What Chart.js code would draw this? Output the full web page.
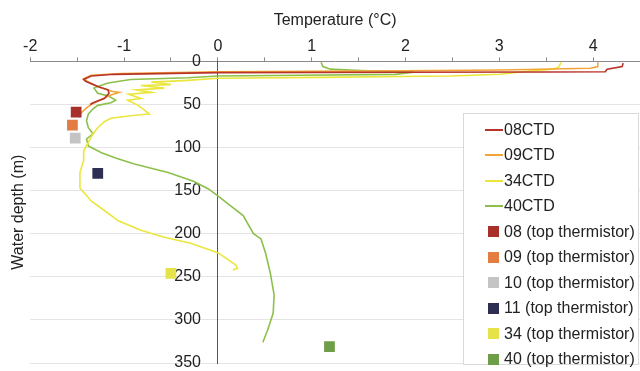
<!DOCTYPE html>
<html>
<head>
<meta charset="utf-8">
<script src="https://cdn.jsdelivr.net/npm/chart.js@4.4.1/dist/chart.umd.min.js"></script>
<style>
  body { margin: 0; background: #fff; overflow: hidden; }
  #wrap { position: relative; width: 640px; height: 371px; }
  #legend {
    position: absolute; left: 463px; top: 113px; width: 176px; height: 252px;
    background: #fff; border: 1px solid #d9d9d9; box-sizing: border-box;
    font-family: "Liberation Sans", Arial, sans-serif; font-size: 16px; color: #222;
    padding-top: 3px;
  }
  .item { height: 25.5px; display: flex; align-items: center; white-space: nowrap; }
  .line { width: 18px; height: 2px; margin-left: 21px; margin-right: 1px; }
  .box { width: 11px; height: 11px; margin-left: 24px; margin-right: 5px; }
</style>
</head>
<body>
<div id="wrap">
  <canvas id="myChart" width="640" height="371"></canvas>
  <div id="legend"></div>
</div>
<script>
//! DATA (temperature in °C, depth in m)
const ctd08Temp  = [4.32, 4.31, 4.15, 4.13, 3.50, 1.95, 0.00, -1.11, -1.35, -1.43, -1.41, -1.28, -1.17, -1.16, -1.21, -1.33, -1.36];
const ctd08Depth = [2, 6, 9, 12, 12.3, 12.6, 13, 15, 17, 21, 23, 29, 33, 37, 43, 48, 50];

const ctd09Temp  = [4.05, 4.05, 3.97, 3.01, 1.95, 0.00, -1.03, -1.35, -1.43, -1.38, -1.24, -1.12, -1.05, -1.14, -1.24, -1.35, -1.40, -1.46, -1.48];
const ctd09Depth = [1, 6, 8, 10, 11, 12, 14, 16, 20, 24, 31, 35, 36, 39, 44, 50, 54, 60, 65];

const ctd34Temp  = [3.66, 3.63, 3.57, 3.30, 3.01, 2.48, 1.95, 1.10, 0.00, -0.32, -0.71, -0.50, -0.82, -0.57, -0.87, -0.71, -0.95, -0.82, -0.96, -0.85, -0.80, -0.73, -0.93, -1.14, -1.21, -1.28, -1.33, -1.37, -1.43, -1.43, -1.47, -1.47, -1.35, -1.21, -1.06, -0.82, -0.57, -0.29, 0.00, 0.19, 0.21, 0.16];
const ctd34Depth = [1, 7, 9, 11.5, 15, 17, 17.5, 18.5, 19.6, 22, 24, 27, 28, 31, 33, 36, 38, 43, 45, 51, 55, 61, 63, 66, 70, 77, 84, 92, 104, 115, 129, 147, 162, 173, 185, 196, 204, 211, 222, 236, 240, 242];

const ctd40Temp  = [1.10, 1.12, 1.20, 1.52, 2.09, 1.89, 0.88, 0.00, -0.32, -0.93, -1.17, -1.28, -1.32, -1.28, -1.17, -1.09, -1.14, -1.28, -1.33, -1.38, -1.40, -1.38, -1.33, -1.40, -1.38, -1.24, -1.09, -0.89, -0.53, -0.26, -0.10, 0.00, 0.13, 0.27, 0.38, 0.46, 0.51, 0.56, 0.60, 0.59, 0.53, 0.48];
const ctd40Depth = [1, 6, 9, 10.5, 12.5, 15, 16, 17, 19, 21, 25, 29, 31, 37, 40, 45, 48, 51, 55, 61, 69, 77, 84, 90, 98, 106, 112, 119, 129, 139, 148, 156, 167, 179, 200, 206, 223, 246, 271, 292, 312, 326];

const ctdNames  = ['08CTD', '09CTD', '34CTD', '40CTD'];
const ctdColors = ['#b8342a', '#f2a536', '#ebe63c', '#8cc04a'];

const thermNames  = ['08 (top thermistor)', '09 (top thermistor)', '10 (top thermistor)', '11 (top thermistor)', '34 (top thermistor)', '40 (top thermistor)'];
const thermTemp   = [-1.51, -1.55, -1.52, -1.28, -0.50, 1.19];
const thermDepth  = [59, 74, 89, 130, 246, 331];
const thermColors = ['#a8302a', '#e37d42', '#c4c4c4', '#2e2e52', '#e6e24a', '#6f9e48'];

const tempTicks  = [-2, -1, 0, 1, 2, 3, 4];
const depthTicks = [0, 50, 100, 150, 200, 250, 300, 350];

//* build points
function toPoints(temps, depths) {
    return temps.map(function (t, i) {
        return { x: t, y: depths[i] };
    });
}

const ctdTemps  = [ctd08Temp, ctd09Temp, ctd34Temp, ctd40Temp];
const ctdDepths = [ctd08Depth, ctd09Depth, ctd34Depth, ctd40Depth];

const datasets = [];
thermNames.forEach(function (name, i) {
    datasets.push({
        label: name,
        data: [{ x: thermTemp[i], y: thermDepth[i] }],
        pointStyle: 'rect',
        pointRadius: 7.6,
        backgroundColor: thermColors[i],
        borderColor: thermColors[i],
        borderWidth: 0,
        order: 0
    });
});
ctdNames.forEach(function (name, i) {
    datasets.push({
        label: name,
        data: toPoints(ctdTemps[i], ctdDepths[i]),
        showLine: true,
        pointRadius: 0,
        borderColor: ctdColors[i],
        backgroundColor: ctdColors[i],
        borderWidth: 1.6,
        tension: 0,
        order: 1 + i
    });
});

const font = { family: '"Liberation Sans", Arial, sans-serif', size: 16 };

//* no extra padding from the axes, the plot area is set by layout
function noPadding(axis) {
    axis.paddingLeft = 0;
    axis.paddingRight = 0;
    axis.paddingTop = 0;
    axis.paddingBottom = 0;
}
function depthTickList(axis) {
    axis.ticks = depthTicks.map(v => ({ value: v }));
}

//! CHART JS CONFIG
const config = {
    type: 'scatter',
    data: { datasets },
    options: {
        responsive: false,
        animation: false,
        layout: { autoPadding: false, padding: { top: 9, left: 3, right: 0, bottom: 8 } },
        plugins: { legend: { display: false }, tooltip: { enabled: false } },
        scales: {
            x: {
                type: 'linear',
                position: 'top',
                min: -2,
                max: 4.5,
                afterBuildTicks: function (axis) {
                    const t = [];
                    for (let v = -2; v <= 4.5; v += 0.5) t.push({ value: v });
                    axis.ticks = t;
                },
                afterFit: noPadding,
                ticks: {
                    color: '#222',
                    font,
                    padding: 1,
                    autoSkip: false,
                    maxRotation: 0,
                    callback: function (v) {
                        return tempTicks.includes(v) ? String(v) : '';
                    }
                },
                grid: { drawOnChartArea: false, tickLength: 4, color: '#8a8a8a' },
                border: { color: '#8a8a8a' },
                title: {
                    display: true,
                    text: 'Temperature (°C)',
                    color: '#222',
                    font,
                    padding: { top: 2, bottom: 6 }
                }
            },
            //* axis line at 0 °C and the grid
            y: {
                type: 'linear',
                position: { x: 0 },
                reverse: true,
                min: 0,
                max: 350,
                afterBuildTicks: depthTickList,
                afterFit: noPadding,
                ticks: { display: false },
                grid: { color: '#e4e4e4', drawTicks: false },
                border: { color: '#555', width: 1 }
            },
            //* depth labels, a little left of the 0 °C line
            yLabels: {
                type: 'linear',
                position: { x: -0.18 },
                reverse: true,
                min: 0,
                max: 350,
                afterBuildTicks: depthTickList,
                afterFit: noPadding,
                ticks: { color: '#222', font: { family: font.family, size: 16, lineHeight: 1 }, padding: 0 },
                grid: { display: false, drawTicks: false },
                border: { display: false }
            },
            yTitle: {
                type: 'linear',
                position: 'left',
                min: 0,
                max: 350,
                afterFit: noPadding,
                ticks: { display: false },
                grid: { display: false, drawTicks: false },
                border: { display: false },
                title: { display: true, text: 'Water depth (m)', color: '#222', font, padding: { top: 6, bottom: 2 } }
            }
        }
    }
};

//! CREATE CHART
const myChart = new Chart(document.getElementById('myChart'), config);

//! LEGEND (html box inside the plot)
const legend = document.getElementById('legend');
ctdNames.forEach(function (name, i) {
    legend.insertAdjacentHTML('beforeend',
        '<div class="item"><span class="line" style="background:' + ctdColors[i] + '"></span>' + name + '</div>');
});
thermNames.forEach(function (name, i) {
    legend.insertAdjacentHTML('beforeend',
        '<div class="item"><span class="box" style="background:' + thermColors[i] + '"></span>' + name + '</div>');
});
</script>
</body>
</html>
